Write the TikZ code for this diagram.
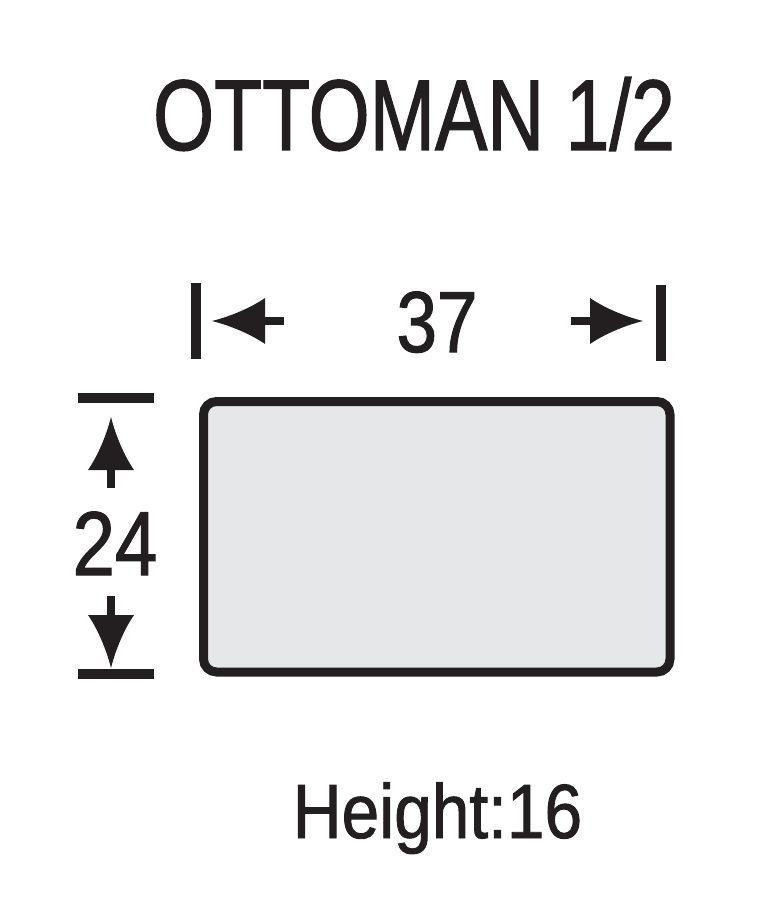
\documentclass[tikz,border=0pt]{standalone}
\usepackage{fontspec}
\setmainfont{Liberation Sans}
\newfontfamily\titlefont[FakeStretch=0.78,FakeBold=1.2]{Liberation Sans}
\newfontfamily\dimfont[FakeStretch=0.84,FakeBold=1.2]{Liberation Sans}
\newfontfamily\hfont[FakeStretch=0.88,FakeBold=1.2]{Liberation Sans}
\definecolor{ink}{HTML}{231F20}
\definecolor{boxfill}{HTML}{E6E7E8}
\tikzset{
  bar/.style={draw=ink, line width=9.5pt},
  shaft/.style={draw=ink, line width=8.5pt},
  tiphead/.pic={\fill[ink] (0,0) .. controls (-20,-5) and (-40,-14) .. (-53,-23) -- (-53,23) .. controls (-40,14) and (-20,5) .. (0,0);},
  lbl/.style={text=ink, inner sep=0pt, anchor=base}
}
\begin{document}
\begin{tikzpicture}[x=1pt,y=-1pt]
\useasboundingbox (0,0) rectangle (766,912);
% title
\node[lbl, font=\titlefont\fontsize{100.6}{100}\selectfont] (title) at (414,150) {OTTOMAN 1/2};
% box
\draw[draw=ink, fill=boxfill, line width=9pt, rounded corners=13pt] (203.5,401.5) rectangle (670,672);
\coordinate (boxtl) at (203.5,401.5);
% width dimension
\coordinate (wl1) at (196,283); \coordinate (wl2) at (196,359);
\coordinate (wr1) at (661,285); \coordinate (wr2) at (661,361);
\draw[bar] (wl1) -- (wl2);
\draw[bar] (wr1) -- (wr2);
\coordinate (wlt) at (212,321); \coordinate (wls) at (284,321);
\coordinate (wrt) at (643,321); \coordinate (wrs) at (571,321);
\draw[shaft] (wls) -- (262,321);
\draw[shaft] (wrs) -- (594,321);
\pic[rotate=180] at (wlt) {tiphead};
\pic at (wrt) {tiphead};
\node[lbl, font=\dimfont\fontsize{86.6}{86}\selectfont] (w) at (437,352) {37};
% depth dimension
\coordinate (dt1) at (78,398); \coordinate (dt2) at (154,398);
\coordinate (db1) at (78,674); \coordinate (db2) at (154,674);
\draw[bar] (dt1) -- (dt2);
\draw[bar] (db1) -- (db2);
\coordinate (dut) at (111,417); \coordinate (dus) at (111,488);
\coordinate (ddt) at (111,668); \coordinate (dds) at (111,596);
\draw[shaft] (dus) -- (111,467);
\draw[shaft] (dds) -- (111,617);
\pic[rotate=90] at (dut) {tiphead};
\pic[rotate=-90] at (ddt) {tiphead};
\node[lbl, font=\dimfont\fontsize{90.8}{90}\selectfont] (d) at (115,575) {24};
% height
\node[lbl, font=\hfont\fontsize{76.8}{76}\selectfont] (h) at (437.5,838) {Height:16};
\end{tikzpicture}
\end{document}
